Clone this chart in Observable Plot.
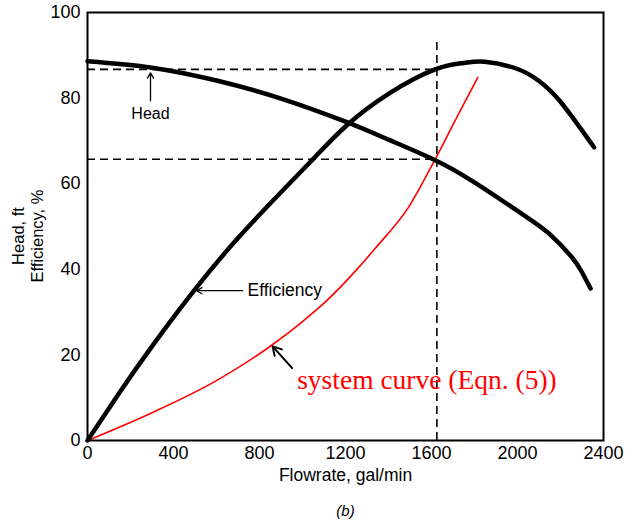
<!DOCTYPE html>
<html>
<head>
<meta charset="utf-8">
<script src="https://cdn.jsdelivr.net/npm/d3@7"></script>
<script src="https://cdn.jsdelivr.net/npm/@observablehq/plot@0.6"></script>
<style>
  html, body { margin: 0; padding: 0; background: #fff; }
  #chart { width: 626px; height: 525px; }
</style>
</head>
<body>
<div id="chart"></div>
<script>
// Flowrate (gal/min) and values
const headQ   = [0, 300, 600, 900, 1200, 1400, 1617, 1800, 2046, 2150, 2250, 2300, 2340];
const headH   = [88.6, 87.1, 84.1, 79.9, 74.5, 70.3, 65.5, 60.3, 52.1, 48.2, 43.0, 39.3, 35.5];

const effQ    = [0, 150, 300, 500, 700, 900, 1050, 1205, 1400, 1617, 1750, 1848, 2000, 2100, 2199, 2356];
const effE    = [0, 11.3, 22.0, 35.3, 47.3, 58.0, 65.8, 73.6, 81.0, 86.7, 88.2, 88.5, 86.8, 84.0, 79.2, 68.5];

const sysQ    = [0, 300, 600, 855, 1000, 1109, 1250, 1340, 1492, 1617, 1723, 1815];
const sysH    = [0, 6.5, 14.0, 22.2, 27.8, 32.5, 39.8, 45.0, 54.4, 65.7, 76.0, 84.8];

const xTicks  = [0, 400, 800, 1200, 1600, 2000, 2400];
const yTicks  = [0, 20, 40, 60, 80, 100];

const opQ     = 1625;   // operating flowrate (vertical dashed)
const opHead  = 65.7;   // head at operating point
const opEff   = 86.7;   // efficiency at operating point

const headData = headQ.map((q, i) => ({q, v: headH[i]}));
const effData  = effQ.map((q, i) => ({q, v: effE[i]}));
const sysData  = sysQ.map((q, i) => ({q, v: sysH[i]}));

const sans = "Liberation Sans, Arial, sans-serif";

const plot = Plot.plot({
  width: 626,
  height: 525,
  marginLeft: 87,
  marginRight: 23,
  marginTop: 12,
  marginBottom: 85,
  style: {fontFamily: sans, color: "#000", background: "#fff", overflow: "visible"},
  x: {domain: [0, 2400]},
  y: {domain: [0, 100]},
  marks: [
    Plot.axisX({ticks: xTicks, tickSize: 0, tickPadding: 6, tickFormat: d => String(d), fontSize: 18, label: null}),
    Plot.axisY({ticks: yTicks, tickSize: 0, tickPadding: 7, tickFormat: d => String(d), fontSize: 18, label: null}),
    // dashed guide lines
    Plot.ruleY([opEff],  {x1: 0, x2: opQ, stroke: "#000", strokeWidth: 1.6, strokeDasharray: "8,5"}),
    Plot.ruleY([opHead], {x1: 0, x2: opQ, stroke: "#000", strokeWidth: 1.6, strokeDasharray: "8,5"}),
    Plot.ruleX([opQ], {y1: 0, y2: 94, stroke: "#000", strokeWidth: 1.6, strokeDasharray: "8,5"}),
    // curves
    Plot.line(sysData,  {x: "q", y: "v", stroke: "#ff0000", strokeWidth: 1.6, curve: "monotone-x"}),
    Plot.line(headData, {x: "q", y: "v", stroke: "#000", strokeWidth: 4.5, curve: "natural"}),
    Plot.line(effData,  {x: "q", y: "v", stroke: "#000", strokeWidth: 4.5, curve: "natural"}),
    // annotations
    Plot.arrow([0], {x1: 293, y1: 79.4, x2: 293, y2: 85.9, stroke: "#000", strokeWidth: 1.3, headLength: 7}),
    Plot.text(["Head"], {x: 293, y: 76.2, fontSize: 16, fill: "#000"}),
    Plot.arrow([0], {x1: 722, y1: 35.0, x2: 508, y2: 35.0, stroke: "#000", strokeWidth: 1.3, headLength: 7}),
    Plot.text(["Efficiency"], {x: 744, y: 35.0, textAnchor: "start", fontSize: 17.5, fill: "#000"}),
    Plot.arrow([0], {x1: 952, y1: 16.9, x2: 861, y2: 22.0, stroke: "#000", strokeWidth: 2, headLength: 9}),
    Plot.text(["system curve (Eqn. (5))"], {x: 975, y: 14.2, textAnchor: "start", fontSize: 27.5, fontFamily: "Liberation Serif, Times New Roman, serif", fill: "#ff0000"}),
    // axis labels
    Plot.text(["Flowrate, gal/min"], {frameAnchor: "bottom", dy: 40, fontSize: 17.5, fill: "#000"}),
    Plot.text(["(b)"], {frameAnchor: "bottom", dy: 75, fontSize: 15, fontStyle: "italic", fill: "#000"}),
    Plot.frame({stroke: "#000", strokeWidth: 2})
  ]
});

// rotated two-line y-axis label
const svg = d3.select(plot);
const yLab = svg.append("g").attr("font-family", sans).attr("font-size", 16.5).attr("fill", "#000");
yLab.append("text").attr("transform", "translate(24,236) rotate(-90)").attr("text-anchor", "middle").text("Head, ft");
yLab.append("text").attr("transform", "translate(43,236) rotate(-90)").attr("text-anchor", "middle").text("Efficiency, %");

document.getElementById("chart").appendChild(plot);
</script>
</body>
</html>
